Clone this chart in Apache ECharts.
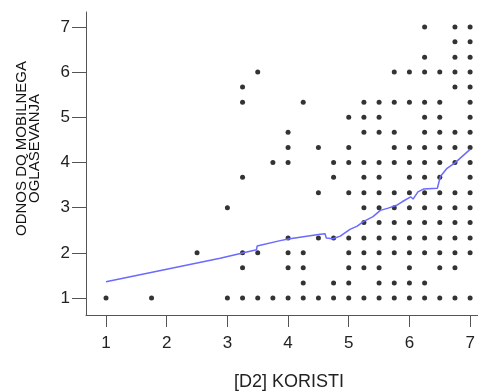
<!DOCTYPE html>
<html>
<head>
<meta charset="utf-8">
<script src="https://cdn.jsdelivr.net/npm/echarts@6/dist/echarts.min.js"></script>
<style>html,body{margin:0;padding:0;background:#fff;}#c{width:478px;height:392px;}</style>
</head>
<body>
<div id="c"></div>
<script>
// Scatter columns: x value -> list of y values
const colX = [1, 1.75, 2.5, 3, 3.25, 3.5, 3.75, 4, 4.25, 4.5, 4.75, 5, 5.25, 5.5, 5.75, 6, 6.25, 6.5, 6.75, 7];
const colY = [
  [1],
  [1],
  [2],
  [1, 3],
  [1, 1.67, 2, 3.67, 5.33, 5.67],
  [1, 2, 6],
  [1, 4],
  [1, 1.67, 2, 2.33, 4, 4.33, 4.67],
  [1, 1.33, 1.67, 2, 5.33],
  [1, 2.33, 3.33, 4.33],
  [1, 1.33, 2.33, 3.67, 4],
  [1, 1.33, 1.67, 2, 2.33, 3.33, 4, 4.33, 5],
  [1, 1.67, 2, 2.33, 2.67, 3, 3.33, 3.67, 4, 4.67, 5, 5.33],
  [1, 1.33, 1.67, 2, 2.33, 2.67, 3, 3.33, 3.67, 4, 4.67, 5, 5.33],
  [1, 1.33, 2, 2.33, 2.67, 3, 3.33, 4, 4.33, 4.67, 5.33, 6],
  [1, 1.33, 1.67, 2, 2.33, 2.67, 3, 3.33, 3.67, 4, 4.33, 5.33, 6],
  [1, 1.33, 2, 2.33, 2.67, 3, 3.33, 3.67, 4, 4.33, 4.67, 5, 5.33, 6, 6.33, 7],
  [1, 1.67, 2, 2.33, 2.67, 3, 3.33, 3.67, 4, 4.33, 4.67, 5, 5.33, 6],
  [1, 1.67, 2, 2.33, 2.67, 3, 3.33, 4, 4.33, 4.67, 5.67, 6, 6.33, 6.67, 7],
  [1, 2, 2.33, 2.67, 3, 3.33, 3.67, 4, 4.33, 4.67, 5, 5.33, 5.67, 6, 6.33, 6.67, 7]
];
// Loess fit line
const fitX = [1, 2.88, 3.48, 3.49, 3.87, 4.03, 4.53, 4.61, 4.63, 4.74, 4.86, 5.02, 5.14, 5.24, 5.40, 5.52, 5.65, 5.80, 5.88, 6.02, 6.06, 6.14, 6.23, 6.46, 6.51, 6.62, 6.75, 7];
const fitY = [1.36, 1.88, 2.07, 2.15, 2.27, 2.31, 2.41, 2.42, 2.33, 2.31, 2.37, 2.52, 2.59, 2.69, 2.80, 2.94, 2.99, 3.06, 3.13, 3.24, 3.19, 3.35, 3.41, 3.43, 3.69, 3.87, 3.99, 4.29];
const xTicks = [1, 2, 3, 4, 5, 6, 7];
const yTicks = [1, 2, 3, 4, 5, 6, 7];
const xTitle = '[D2] KORISTI';
const yTitle = 'ODNOS DO MOBILNEGA\nOGLAŠEVANJA';

const pts = [];
colX.forEach((x, i) => colY[i].forEach(y => pts.push([x, y])));
const fit = fitX.map((x, i) => [x, fitY[i]]);

const chart = echarts.init(document.getElementById('c'));
const axisCommon = {
  axisLine: {show: true, onZero: false, lineStyle: {color: '#555', width: 1}},
  splitLine: {show: false},
  nameLocation: 'middle',
};
chart.setOption({
  animation: false,
  grid: {left: 86, top: 12, right: 0, bottom: 77, containLabel: false, outerBoundsMode: 'none'},
  xAxis: Object.assign({}, axisCommon, {
    type: 'value', min: 0.67, max: 7.13,
    axisTick: {show: true, length: 12, customValues: xTicks, lineStyle: {color: '#555'}},
    axisLabel: {customValues: xTicks, margin: 20, fontSize: 17, color: '#222', fontFamily: 'Liberation Sans'},
    name: xTitle, nameGap: 58,
    nameTextStyle: {fontSize: 18, color: '#222', fontFamily: 'Liberation Sans', padding: [0, 0, 0, 14]}
  }),
  yAxis: Object.assign({}, axisCommon, {
    type: 'value', min: 0.624, max: 7.33,
    axisTick: {show: true, length: 14, customValues: yTicks, lineStyle: {color: '#555'}},
    axisLabel: {customValues: yTicks, margin: 16, fontSize: 17, color: '#222', fontFamily: 'Liberation Sans'},
    name: yTitle, nameGap: 45, nameRotate: 90,
    nameTextStyle: {fontSize: 15, color: '#111', fontFamily: 'Liberation Sans', lineHeight: 13, padding: [0, 0, 0, 30]}
  }),
  series: [
    {type: 'scatter', data: pts, symbolSize: 5, itemStyle: {color: '#000'}, z: 2},
    {type: 'line', data: fit, showSymbol: false, symbol: 'none', lineStyle: {color: '#6a6aff', width: 1.5}, z: 3}
  ]
});
</script>
</body>
</html>
